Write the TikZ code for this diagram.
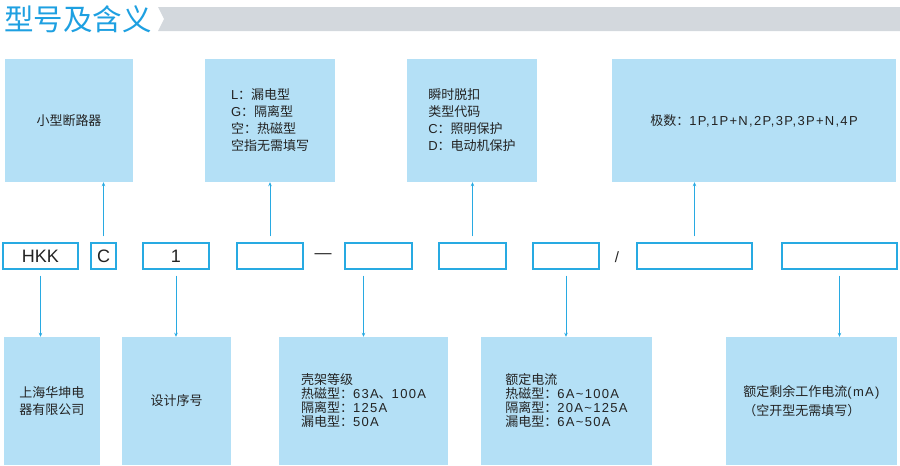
\documentclass[tikz,border=0pt]{standalone}
\usepackage{fontspec}
\setmainfont{Liberation Sans}[LetterSpace=10]
\newfontfamily\cjk{Noto Sans CJK SC}
\newfontfamily\plain{Liberation Sans}
\usetikzlibrary{arrows.meta}

\definecolor{titleblue}{RGB}{30,160,225}
\definecolor{bargray}{RGB}{211,216,221}
\definecolor{boxblue}{RGB}{180,224,246}
\definecolor{lineblue}{RGB}{40,170,226}
\definecolor{textgray}{RGB}{35,35,35}

\begin{document}
\begin{tikzpicture}[x=1pt,y=-1pt,
    infobox/.style={fill=boxblue,inner sep=0pt,text=textgray,align=left},
    codebox/.style={draw=lineblue,line width=1.2pt,fill=white,minimum height=26pt,inner sep=0pt,
      text=textgray,font=\plain\fontsize{18}{18}\selectfont},
    link/.style={draw=lineblue,line width=1pt,-{Stealth[length=4pt,width=3.5pt]},shorten <=6pt}]

  \useasboundingbox (0,0) rectangle (900,466);

  % header
  \node[anchor=west,inner sep=0pt,text=titleblue,font=\cjk\fontsize{29.5}{29.5}\selectfont] (title) at (4,19) {型号及含义};
  \fill[bargray] (158,7) -- (900,7) -- (900,31) -- (158,31) -- (164,19) -- cycle;

  % top row
  \begin{scope}[every node/.style={infobox,minimum height=123pt,font=\fontsize{13}{17}\selectfont}]
    \node[minimum width=128pt] (t1) at (69,120.5)  {\cjk 小型断路器};
    \node[minimum width=130pt] (t2) at (270,120.5) {L{\cjk ：漏电型}\\G{\cjk ：隔离型}\\{\cjk 空：热磁型}\\{\cjk 空指无需填写}};
    \node[minimum width=130pt] (t3) at (472,120.5) {{\cjk 瞬时脱扣}\\{\cjk 类型代码}\\C{\cjk ：照明保护}\\D{\cjk ：电动机保护}};
    \node[minimum width=284pt] (t4) at (754,120.5) {{\cjk 极数：}1P,1P+N,2P,3P,3P+N,4P};
  \end{scope}

  % code row
  \begin{scope}[every node/.style={codebox}]
    \node[minimum width=75pt]  (m1) at (40.5,256)  {HKK};
    \node[minimum width=25pt]  (m2) at (103.5,256) {C};
    \node[minimum width=66pt]  (m3) at (176,256)   {1};
    \node[minimum width=66pt]  (m4) at (270,256)   {};
    \node[minimum width=67pt]  (m5) at (378.5,256) {};
    \node[minimum width=67pt]  (m6) at (472.5,256) {};
    \node[minimum width=66pt]  (m7) at (566,256)   {};
    \node[minimum width=115pt] (m8) at (694.5,256) {};
    \node[minimum width=115pt] (m9) at (839.5,256) {};
  \end{scope}
  \node[text=textgray,font=\plain\fontsize{17}{17}\selectfont] (dash)  at (323,256) {—};
  \node[text=textgray,font=\plain\fontsize{15}{15}\selectfont] (slash) at (617,257) {/};

  % bottom row
  \begin{scope}[every node/.style={infobox,minimum height=128pt,font=\fontsize{13}{14}\selectfont}]
    \node[minimum width=96pt,align=center,font=\fontsize{13}{17}\selectfont] (b1) at (52,401) {\cjk 上海华坤电\\\cjk 器有限公司};
    \node[minimum width=109pt] (b2) at (176.5,401) {\cjk 设计序号};
    \node[minimum width=169pt] (b3) at (363.5,401) {{\cjk 壳架等级}\\{\cjk 热磁型：}63A{\cjk 、}100A\\{\cjk 隔离型：}125A\\{\cjk 漏电型：}50A};
    \node[minimum width=171pt] (b4) at (566.5,401) {{\cjk 额定电流}\\{\cjk 热磁型：}6A\textasciitilde100A\\{\cjk 隔离型：}20A\textasciitilde125A\\{\cjk 漏电型：}6A\textasciitilde50A};
    \node[minimum width=171pt,font=\fontsize{13}{19}\selectfont] (b5) at (811.5,401) {{\cjk 额定剩余工作电流}(mA)\\{\cjk （空开型无需填写）}};
  \end{scope}

  % links up
  \draw[link] (m2.north) -- (m2.north |- t1.south);
  \draw[link] (m4.north) -- (m4.north |- t2.south);
  \draw[link] (m6.north) -- (m6.north |- t3.south);
  \draw[link] (m8.north) -- (m8.north |- t4.south);

  % links down
  \draw[link] (m1.south) -- (m1.south |- b1.north);
  \draw[link] (m3.south) -- (m3.south |- b2.north);
  \draw[link] (m5.south -| b3.north) -- (b3.north);
  \draw[link] (m7.south) -- (m7.south |- b4.north);
  \draw[link] (m9.south) -- (m9.south |- b5.north);

\end{tikzpicture}
\end{document}
